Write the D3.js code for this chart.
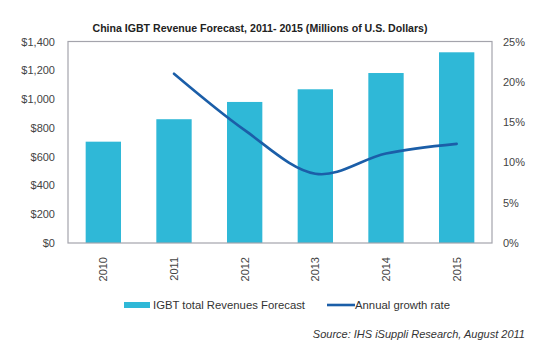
<!DOCTYPE html>
<html><head><meta charset="utf-8">
<script src="https://cdn.jsdelivr.net/npm/d3@7"></script>
<style>body{margin:0;background:#fff}svg{display:block}text{font-family:"Liberation Sans",Arial,sans-serif}</style>
</head><body><svg id="c" width="545" height="349"></svg>
<script>
const years = ["2010","2011","2012","2013","2014","2015"];
const revenues = [704, 860, 980, 1068, 1181, 1325];
const growthYears = ["2011","2012","2013","2014","2015"];
const growthRates = [21.0, 14.0, 8.6, 11.1, 12.3];
const leftTicks = [0,200,400,600,800,1000,1200,1400];
const rightTicks = [0,5,10,15,20,25];

const svg = d3.select("#c");
const L=68, R=492, T=41.5, B=243;
const x = d3.scaleBand().domain(years).range([L,R]).paddingInner(0.5).paddingOuter(0.25);
const y = d3.scaleLinear().domain([0,1400]).range([B,T]);
const y2 = d3.scaleLinear().domain([0,25]).range([B,T]);

svg.append("text").attr("x",260).attr("y",32).attr("text-anchor","middle")
  .attr("font-size",11.5).attr("font-weight","bold").attr("fill","#222")
  .attr("textLength",335).attr("lengthAdjust","spacingAndGlyphs")
  .text("China IGBT Revenue Forecast, 2011- 2015 (Millions of U.S. Dollars)");

svg.append("g").selectAll("rect").data(years).join("rect")
  .attr("x",d=>x(d)).attr("width",x.bandwidth())
  .attr("y",(d,i)=>y(revenues[i])).attr("height",(d,i)=>B-y(revenues[i]))
  .attr("fill","#2fb8d7");

svg.append("rect").attr("x",L).attr("y",T).attr("width",R-L).attr("height",B-T)
  .attr("fill","none").attr("stroke","#a4a4ac").attr("stroke-width",1.2);

const la = svg.append("g").attr("transform",`translate(${L},0)`)
  .call(d3.axisLeft(y).tickValues(leftTicks).tickSize(0).tickPadding(13).tickFormat(d=>"$"+d3.format(",")(d)));
la.select(".domain").remove();
la.selectAll("text").attr("font-size",11).attr("fill","#444").attr("font-family","Liberation Sans, Arial, sans-serif");

const ra = svg.append("g").attr("transform",`translate(${R},0)`)
  .call(d3.axisRight(y2).tickValues(rightTicks).tickSize(0).tickPadding(11).tickFormat(d=>d+"%"));
ra.select(".domain").remove();
ra.selectAll("text").attr("font-size",11).attr("fill","#444").attr("font-family","Liberation Sans, Arial, sans-serif");

const xa = svg.append("g").attr("transform",`translate(0,${B})`)
  .call(d3.axisBottom(x).tickSize(0).tickPadding(0));
xa.select(".domain").remove();
xa.selectAll("text").attr("font-size",11).attr("fill","#444").attr("font-family","Liberation Sans, Arial, sans-serif")
  .attr("text-anchor","end").attr("dy","0.35em")
  .attr("transform",d=>`translate(0,14) rotate(-90)`).attr("x",0).attr("y",0);

const line = d3.line().x((d,i)=>x(growthYears[i])+x.bandwidth()/2).y(d=>y2(d)).curve(d3.curveCardinal.tension(0));
svg.append("path").datum(growthRates).attr("d",line).attr("fill","none")
  .attr("stroke","#1b5ea8").attr("stroke-width",2.6).attr("stroke-linecap","round");

// legend
const lg = svg.append("g");
lg.append("rect").attr("x",124).attr("y",302).attr("width",26).attr("height",6).attr("fill","#2fb8d7");
lg.append("text").attr("x",153).attr("y",309).attr("font-size",11).attr("fill","#333")
  .attr("textLength",152).attr("lengthAdjust","spacingAndGlyphs").text("IGBT total Revenues Forecast");
lg.append("line").attr("x1",327).attr("x2",355).attr("y1",305).attr("y2",305).attr("stroke","#1b5ea8").attr("stroke-width",2.6);
lg.append("text").attr("x",355).attr("y",309).attr("font-size",11).attr("fill","#333")
  .attr("textLength",95).attr("lengthAdjust","spacingAndGlyphs").text("Annual growth rate");

svg.append("text").attr("x",525).attr("y",338).attr("text-anchor","end").attr("font-size",11)
  .attr("font-style","italic").attr("fill","#333").text("Source: IHS iSuppli Research, August 2011");
</script></body></html>
